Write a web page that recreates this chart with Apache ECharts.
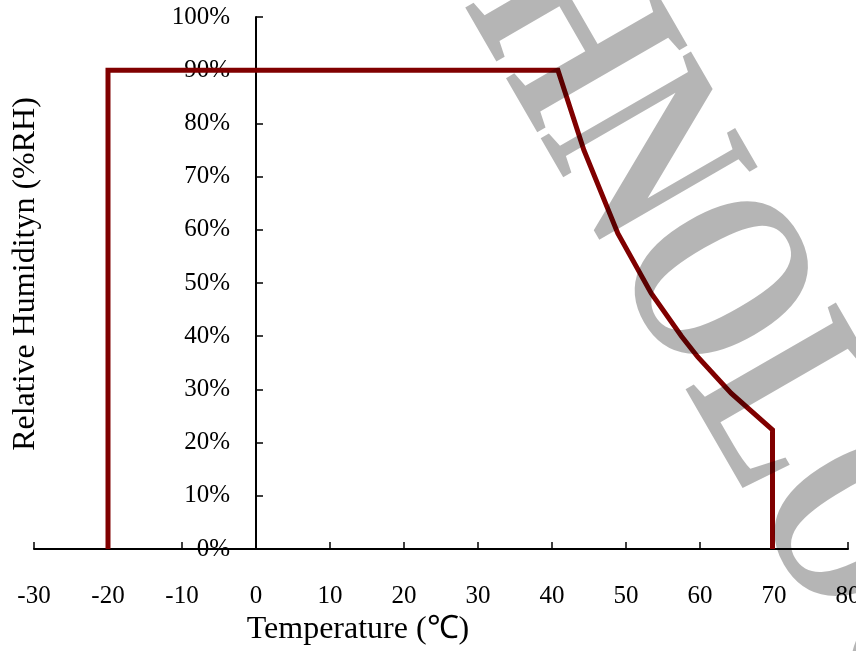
<!DOCTYPE html>
<html>
<head>
<meta charset="utf-8">
<script src="https://cdn.jsdelivr.net/npm/echarts@6/dist/echarts.min.js"></script>
<style>html,body{margin:0;padding:0;background:#fff;}#chart{width:856px;height:651px;}</style>
</head>
<body>
<div id="chart"></div>
<script>
// Operating envelope
const temperature = [-20, -20, 40.8, 44.3, 48.9, 53.4, 57.5, 59.7, 64.2, 69.8, 69.8];
const humidity    = [0,   90,  90,   75,   59.3, 48.1, 40,   36.1, 29.3, 22.4, 0];
const xTicks = { min: -30, max: 80, interval: 10 };
const yTicks = { min: 0, max: 100, interval: 10 };
const xName = 'Temperature (\u2103)';
const yName = 'Relative Humidityn (%RH)';
const watermark = 'TECHNOLOGY';

const serif = 'Liberation Serif';
const chart = echarts.init(document.getElementById('chart'), null, { renderer: 'canvas' });
const points = temperature.map((t, i) => [t, humidity[i]]);

chart.setOption({
  backgroundColor: '#fff',
  animation: false,
  grid: { left: 34, right: 8, top: 17, bottom: 102, containLabel: false, outerBoundsMode: 'none' },
  xAxis: {
    type: 'value', min: xTicks.min, max: xTicks.max, interval: xTicks.interval,
    axisLine: { onZero: true, lineStyle: { color: '#000', width: 2 } },
    axisTick: { show: true, inside: true, length: 7, lineStyle: { color: '#000', width: 1.5 } },
    axisLabel: { margin: 35, fontFamily: serif, fontSize: 25, color: '#000' },
    splitLine: { show: false },
    name: xName, nameLocation: 'middle', nameGap: 65,
    nameTextStyle: { fontFamily: serif, fontSize: 32, color: '#000', padding: [0, 166, 0, 0] }
  },
  yAxis: {
    type: 'value', min: yTicks.min, max: yTicks.max, interval: yTicks.interval,
    offset: -222,
    axisLine: { onZero: false, lineStyle: { color: '#000', width: 2 } },
    axisTick: { show: true, inside: true, length: 7, lineStyle: { color: '#000', width: 1.5 } },
    axisLabel: { margin: 26, fontFamily: serif, fontSize: 25, color: '#000', formatter: '{value}%' },
    splitLine: { show: false },
    name: yName, nameLocation: 'middle', nameGap: 214,
    nameTextStyle: { fontFamily: serif, fontSize: 32, color: '#000', padding: [0, 0, 0, 18] }
  },
  series: [{
    type: 'line', data: points, showSymbol: false, symbol: 'none',
    lineStyle: { color: '#800000', width: 5, join: 'miter' },
    z: 3
  }],
  graphic: [{
    type: 'text', z: 100, silent: true,
    x: 324, y: -374,
    rotation: -Math.PI / 3,
    scaleX: 0.73, scaleY: 1,
    style: {
      text: watermark, fontFamily: serif, fontSize: 265, fontWeight: 'bold',
      fill: 'rgba(0,0,0,0.29)', align: 'left', verticalAlign: 'middle'
    }
  }]
});
</script>
</body>
</html>
